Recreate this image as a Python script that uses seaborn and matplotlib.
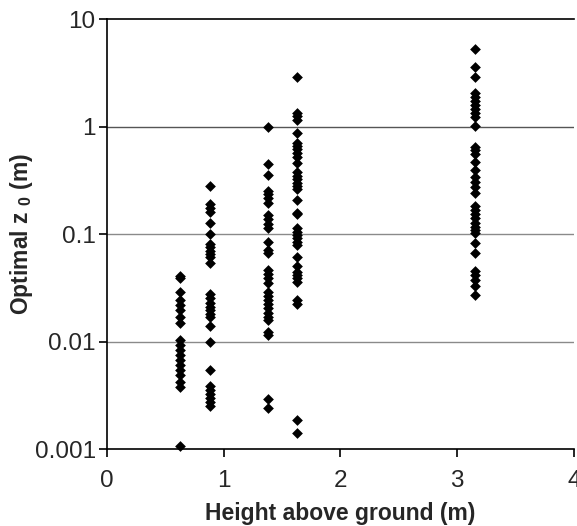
import numpy as np
import pandas as pd
import matplotlib
matplotlib.use("Agg")
import matplotlib.pyplot as plt
import seaborn as sns

# heights of the five measurement levels (m)
heights = [0.63, 0.88, 1.38, 1.63, 3.15]

# optimal z0 values at each height (m)
z0_h1 = [0.0395, 0.041, 0.0292, 0.0245, 0.022, 0.0198, 0.0171, 0.0149, 0.0104,
         0.0093, 0.0084, 0.0075, 0.0068, 0.0061, 0.0055, 0.0049, 0.0042, 0.0038,
         0.00106]
z0_h2 = [0.283, 0.19, 0.175, 0.162, 0.128, 0.1, 0.0813, 0.0757, 0.0703, 0.0656,
         0.0611, 0.0537, 0.0279, 0.0254, 0.0231, 0.0212, 0.0198, 0.0181, 0.0169,
         0.014, 0.0099, 0.0055, 0.0039, 0.00356, 0.00327, 0.00298, 0.00274,
         0.00253]
z0_h3 = [0.99, 0.451, 0.356, 0.255, 0.237, 0.216, 0.194, 0.151, 0.138, 0.125,
         0.114, 0.0853, 0.0715, 0.0675, 0.0466, 0.0427, 0.039, 0.035, 0.0292,
         0.0267, 0.0245, 0.0225, 0.0205, 0.0187, 0.0171, 0.0159, 0.0116, 0.0122,
         0.00292, 0.0024]
z0_h4 = [2.92, 1.35, 1.26, 1.15, 0.88, 0.706, 0.662, 0.618, 0.574, 0.527, 0.463,
         0.38, 0.352, 0.325, 0.3, 0.279, 0.262, 0.208, 0.159, 0.155, 0.114, 0.106,
         0.0986, 0.0918, 0.0853, 0.0794, 0.0619, 0.0507, 0.0449, 0.0418, 0.039,
         0.0362, 0.0245, 0.0223, 0.00187, 0.00143]
z0_h5 = [5.29, 3.58, 2.92, 2.08, 1.91, 1.75, 1.6, 1.46, 1.34, 1.23, 1.02, 0.653,
         0.608, 0.558, 0.473, 0.396, 0.344, 0.309, 0.277, 0.24, 0.183, 0.168,
         0.155, 0.141, 0.128, 0.118, 0.11, 0.102, 0.0825, 0.0675, 0.0459, 0.0418,
         0.0376, 0.033, 0.0272]

y_ticks = [0.001, 0.01, 0.1, 1, 10]
y_ticklabels = ["0.001", "0.01", "0.1", "1", "10"]
x_ticks = [0, 1, 2, 3, 4]

rows = []
for h, vals in zip(heights, [z0_h1, z0_h2, z0_h3, z0_h4, z0_h5]):
    for v in vals:
        rows.append({"height": h, "z0": v})
df = pd.DataFrame(rows)

sns.set_style("white")
plt.rcParams["font.family"] = ["Liberation Sans", "DejaVu Sans"]
plt.rcParams["mathtext.fontset"] = "custom"
plt.rcParams["mathtext.rm"] = "Liberation Sans:bold"
plt.rcParams["mathtext.default"] = "rm"

fig = plt.figure(figsize=(5.77, 5.26), dpi=100)
ax = fig.add_axes([0.185, 0.146, 0.81, 0.817])

ax.axhline(1, color="#555555", lw=1.0, zorder=0)
for y in [0.01, 0.1]:
    ax.axhline(y, color="#8a8a8a", lw=1.0, zorder=0)

sns.scatterplot(data=df, x="height", y="z0", marker="D", s=30, color="black",
                edgecolor="black", linewidth=0, ax=ax, zorder=3, clip_on=False)

ax.set_yscale("log")
ax.set_ylim(0.001, 10)
ax.set_xlim(0, 4)
ax.set_yticks(y_ticks)
ax.set_yticklabels(y_ticklabels)
ax.set_xticks(x_ticks)
ax.yaxis.set_minor_locator(matplotlib.ticker.NullLocator())

for side in ["left", "bottom", "top"]:
    ax.spines[side].set_visible(True)
    ax.spines[side].set_color("black")
    ax.spines[side].set_linewidth(1.2)
ax.spines["right"].set_visible(False)

ax.tick_params(axis="both", which="major", direction="out", length=6, width=1.2,
               color="black", labelsize=17.5, left=True, bottom=True)
ax.tick_params(axis="x", pad=9)
ax.tick_params(axis="y", pad=2)

ax.set_xlabel("Height above ground (m)", fontsize=16.5, fontweight="bold", labelpad=7)
ax.set_ylabel("Optimal z $_0$ (m)", fontsize=16.5, fontweight="bold", labelpad=0)

fig.savefig("out.png", dpi=100)
